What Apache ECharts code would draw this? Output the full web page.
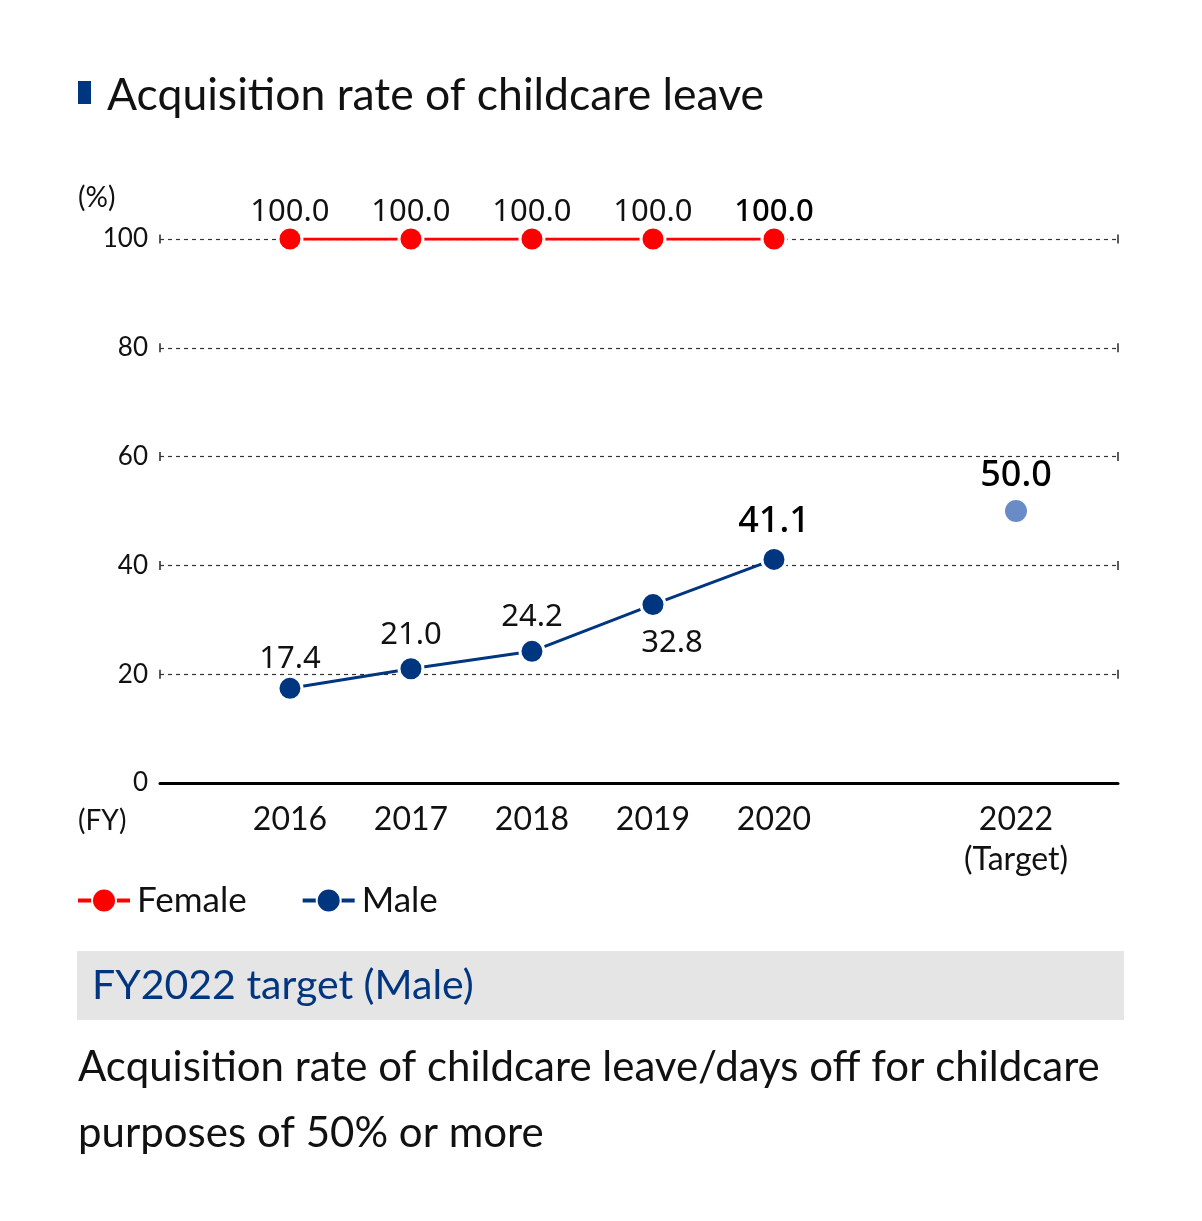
<!DOCTYPE html>
<html>
<head>
<meta charset="utf-8">
<script src="https://cdn.jsdelivr.net/npm/echarts@6/dist/echarts.min.js"></script>
<style>
html,body{margin:0;padding:0;background:#fff;}
#c{width:1202px;height:1221px;}
</style>
</head>
<body>
<div id="c"></div>
<script>
// ---- data ----
const years = [2016, 2017, 2018, 2019, 2020];
const female = [100.0, 100.0, 100.0, 100.0, 100.0];
const male = [17.4, 21.0, 24.2, 32.8, 41.1];
const targetYear = 2022;
const targetMale = 50.0;
const yTicks = [0, 20, 40, 60, 80, 100];
const xLabelValues = [2016, 2017, 2018, 2019, 2020, 2022];

const xMin = 2014.926, xMax = 2022.843;
const RED = '#ff0000', BLUE = '#003580', LIGHT = '#6a8cc6';
const TXT = 'Lato, "Noto Sans", sans-serif';
const NUM = '"Noto Sans", "Open Sans", sans-serif';

const chart = echarts.init(document.getElementById('c'), null, {renderer: 'canvas'});

const maleLabelCfg = [
  {position: 'top', distance: 0},
  {position: 'top', distance: 5},
  {position: 'top', distance: 5},
  {position: 'bottom', distance: 10, offset: [19, 0]},
  {position: 'top', distance: 6, fontSize: 36, fontWeight: 500, color: '#000'}
];

const caps = [];
yTicks.filter(v => v > 0).forEach(v => { caps.push([xMin, v]); caps.push([xMax, v]); });

chart.setOption({
  animation: false,
  grid: {left: 160, right: 84, top: 239, bottom: 438, containLabel: false},
  legend: {
    left: 76, top: 883, padding: 0,
    itemWidth: 52, itemHeight: 30, itemGap: 54,
    lineStyle: {width: 4},
    textStyle: {fontFamily: TXT, fontSize: 35, color: '#111', padding: [0, 0, 0, 2]},
    data: ['Female', 'Male']
  },
  xAxis: {
    type: 'value', min: xMin, max: xMax,
    axisLine: {show: true, onZero: true, lineStyle: {color: '#000', width: 3}},
    axisTick: {show: false},
    splitLine: {show: false},
    axisLabel: {
      customValues: xLabelValues,
      margin: 17,
      fontFamily: TXT, fontSize: 32, color: '#111', lineHeight: 40,
      formatter: v => v === targetYear ? v + '\n(Target)' : String(v)
    }
  },
  yAxis: {
    type: 'value', min: 0, max: 100, interval: 20,
    axisLine: {show: false},
    axisTick: {show: false},
    axisLabel: {margin: 12, fontFamily: TXT, fontSize: 26, color: '#111'},
    splitLine: {show: true, lineStyle: {color: '#333', type: [4, 4], width: 1.2}}
  },
  graphic: [
    {type: 'rect', left: 78, top: 81, shape: {width: 13, height: 23}, style: {fill: BLUE}},
    {type: 'text', left: 107, top: 73, style: {text: 'Acquisition rate of childcare leave', font: '44.5px ' + TXT, fill: '#111'}},
    {type: 'text', left: 78, top: 184, style: {text: '(%)', font: '28px ' + TXT, fill: '#111'}},
    {type: 'text', left: 78, top: 807, style: {text: '(FY)', font: '28px ' + TXT, fill: '#111'}},
    {type: 'rect', left: 77, top: 951, shape: {width: 1047, height: 69}, style: {fill: '#e5e5e5'}},
    {type: 'text', left: 92, top: 965, style: {text: 'FY2022 target (Male)', font: '41px ' + TXT, fill: BLUE}},
    {type: 'text', left: 78, top: 1034, style: {text: 'Acquisition rate of childcare leave/days off for childcare\npurposes of 50% or more', font: '42px ' + TXT, fill: '#111', lineHeight: 66}}
  ],
  series: [
    {
      name: 'caps', type: 'scatter', silent: true, symbol: 'rect', symbolSize: [1.6, 9],
      itemStyle: {color: '#333', opacity: 1}, data: caps, z: 1
    },
    {
      name: 'Female', type: 'line', symbol: 'circle', symbolSize: 24,
      lineStyle: {color: RED, width: 3},
      itemStyle: {color: RED, borderColor: '#fff', borderWidth: 3},
      label: {show: true, position: 'top', distance: -2, fontFamily: NUM, fontSize: 31, color: '#111',
        formatter: p => p.value[1].toFixed(1)},
      data: years.map((y, i) => i === years.length - 1
        ? {value: [y, female[i]], label: {fontWeight: 500, color: '#000'}}
        : [y, female[i]]),
      z: 3
    },
    {
      name: 'Male', type: 'line', symbol: 'circle', symbolSize: 24,
      lineStyle: {color: BLUE, width: 3},
      itemStyle: {color: BLUE, borderColor: '#fff', borderWidth: 3},
      label: {show: true, fontFamily: NUM, fontSize: 31, color: '#111',
        formatter: p => p.value[1].toFixed(1)},
      data: years.map((y, i) => ({value: [y, male[i]], label: maleLabelCfg[i]})),
      z: 3
    },
    {
      name: 'Target', type: 'scatter', symbol: 'circle', symbolSize: 22,
      itemStyle: {color: LIGHT, opacity: 1},
      label: {show: true, position: 'top', distance: 6, fontFamily: NUM, fontSize: 36, fontWeight: 500, color: '#000',
        formatter: p => p.value[1].toFixed(1)},
      data: [[targetYear, targetMale]],
      z: 3
    }
  ]
});
</script>
</body>
</html>
